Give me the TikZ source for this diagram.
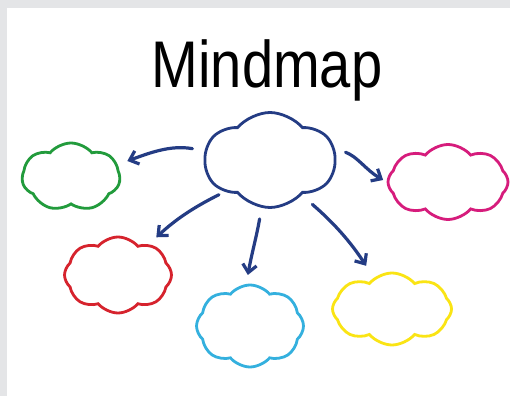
\documentclass[tikz,border=0pt]{standalone}
\usepackage{fontspec}
\setmainfont{Liberation Sans}
\usetikzlibrary{shapes.symbols,arrows.meta}

\definecolor{ink}{RGB}{36,60,132}
\definecolor{cgreen}{RGB}{34,155,60}
\definecolor{cred}{RGB}{214,35,45}
\definecolor{ccyan}{RGB}{52,176,222}
\definecolor{cyellow}{RGB}{250,228,20}
\definecolor{cpink}{RGB}{214,28,124}
\definecolor{framegray}{RGB}{228,229,231}

\tikzset{
  ->/.style={draw=ink,line width=3.2pt,line cap=round,-{Straight Barb[length=8pt,width=14pt]},shorten <=11pt,shorten >=10pt},
  idea/.style={cloud,cloud puffs=8,cloud puff arc=100,cloud ignores aspect,draw,line width=2.8pt,inner sep=0pt}
}
\tikzstyle{every node}=[color=black]

\begin{document}
\begin{tikzpicture}[x=1pt,y=1pt]
    \useasboundingbox (0,0) rectangle (510,396);
    \fill[framegray] (0,0) rectangle (510,396);
    \fill[white] (7,0) rectangle (510,388);
    \node[font=\fontsize{66}{66}\selectfont,xscale=0.85,anchor=base] (title) at (267,308) {Mindmap};
    \node[idea,cloud puffs=6,draw=ink,minimum width=130pt,minimum height=95pt] (main) at (270,236) {};
    \node[idea,cloud puffs=7,draw=cgreen,minimum width=98pt,minimum height=68pt] (green) at (71,219) {};
    \node[idea,draw=cred,minimum width=107pt,minimum height=76pt] (red) at (118,121) {};
    \node[idea,draw=ccyan,minimum width=107pt,minimum height=82pt] (cyan) at (250,70) {};
    \node[idea,draw=cyellow,minimum width=119pt,minimum height=72pt] (yellow) at (392,87) {};
    \node[idea,draw=cpink,minimum width=120pt,minimum height=75pt] (pink) at (448,214) {};
    \draw[->,shorten <=12pt] (main.172) to[out=170,in=20] (green.15);
    \draw[->,shorten <=6pt,shorten >=10pt] (main.215) to[bend right=8] (red.45);
    \draw[->,shorten >=9pt] (main.260) to[out=-100,in=80] (cyan.95);
    \draw[->,shorten <=14pt,shorten >=14pt] (main.-48) to[bend left=8] (yellow.120);
    \draw[->,shorten >=4pt] (main.10) to[out=-20,in=150] (pink.west);
\end{tikzpicture}
\end{document}
